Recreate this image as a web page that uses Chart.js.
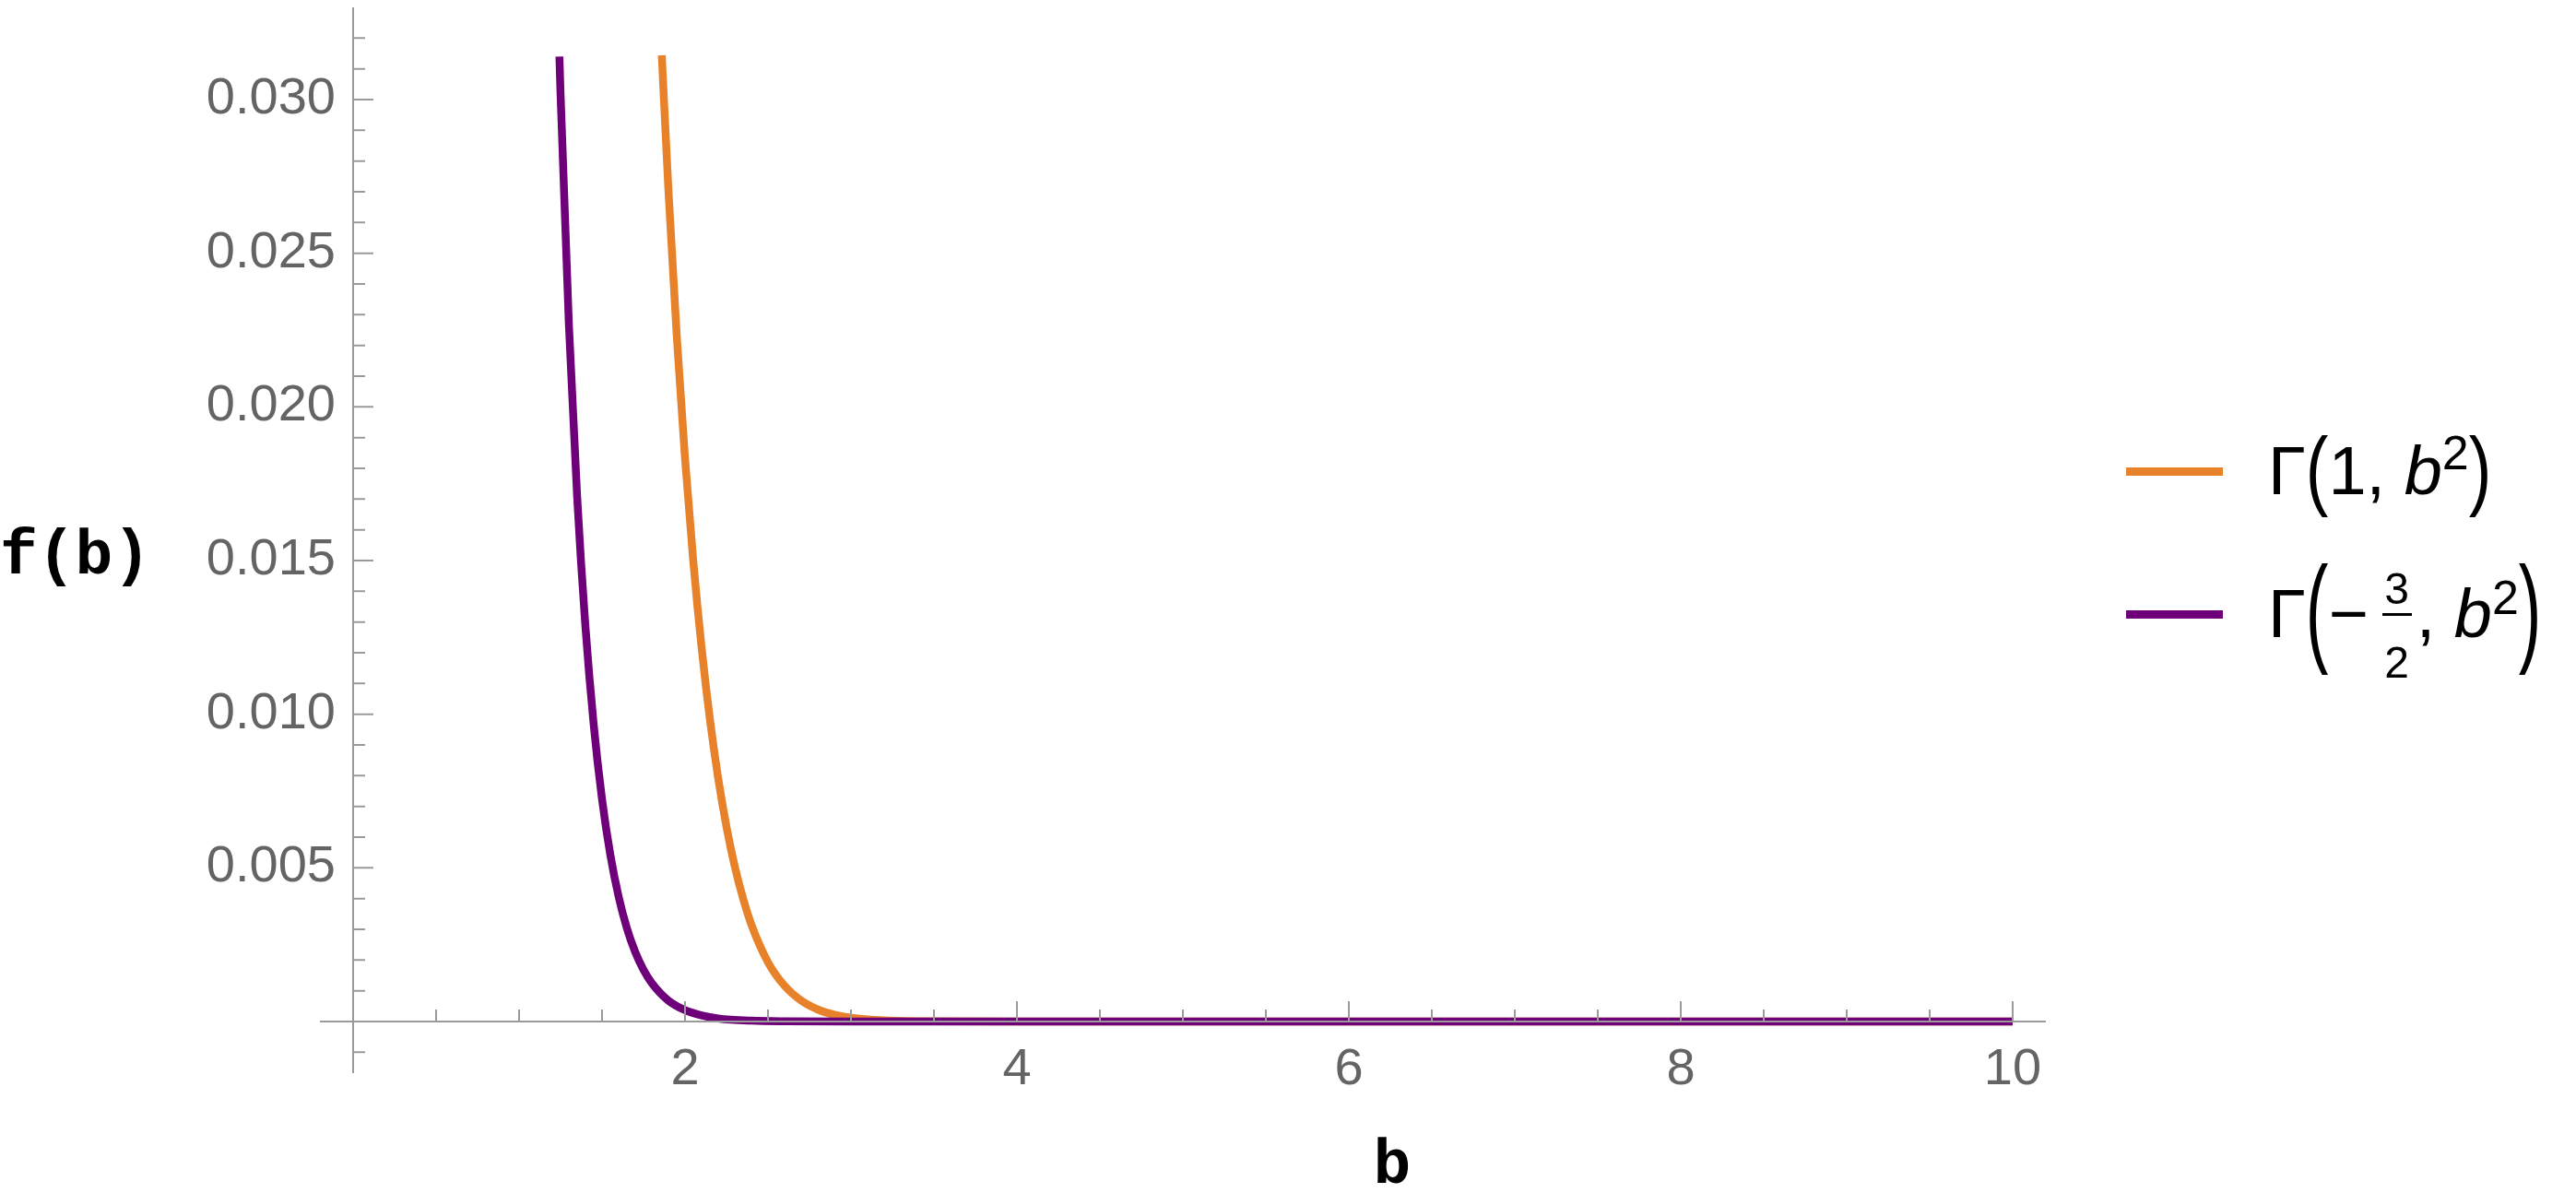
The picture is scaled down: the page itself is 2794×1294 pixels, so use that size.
<!DOCTYPE html>
<html>
<head>
<meta charset="utf-8">
<script src="https://cdn.jsdelivr.net/npm/chart.js@4.4.0/dist/chart.umd.min.js"></script>
<style>
    html, body { margin: 0; padding: 0; background: #fff; }
    #wrap { position: relative; width: 2794px; height: 1294px; overflow: hidden; }
    #grafico { position: absolute; left: 0; top: 0; }

    .titulo-eixo {
        position: absolute;
        font-family: "Liberation Mono", "DejaVu Sans Mono", monospace;
        font-weight: bold;
        font-size: 68px;
        line-height: 68px;
        color: #000;
        white-space: pre;
    }

    .leg-linha { position: absolute; left: 2306px; width: 105px; height: 9px; }
    .leg-texto {
        position: absolute;
        left: 2460px;
        font-family: "Liberation Sans", Arial, sans-serif;
        font-size: 74px;
        line-height: 74px;
        color: #000;
        white-space: nowrap;
    }
    .par { display: inline-block; transform-origin: 50% 44px; }
    .sup { font-size: 52px; line-height: 0; }
    .frac { display: inline-block; position: relative; width: 34px; height: 0; margin: 0 4px 0 14px; }
    .frac span {
        position: absolute; left: 0; width: 34px; text-align: center;
        font-size: 48px; line-height: 48px;
    }
    .frac .barra { position: absolute; left: 1px; width: 32px; height: 3px; top: -26px; background: #000; }
</style>
</head>
<body>
<div id="wrap">
    <canvas id="grafico" width="2794" height="1294"></canvas>

    <div class="titulo-eixo" style="left:0px; top:570px;">f(b)</div>
    <div class="titulo-eixo" style="left:1460px; top:1231px; width:100px; text-align:center;">b</div>

    <div class="leg-linha" id="legLaranja" style="top:507px;"></div>
    <div class="leg-texto" style="top:474px;">Γ<span class="par" style="transform:scaleY(1.27)">(</span>1, <i>b</i><span class="sup" style="vertical-align:27px">2</span><span class="par" style="transform:scaleY(1.27)">)</span></div>

    <div class="leg-linha" id="legRoxo" style="top:662px;"></div>
    <div class="leg-texto" style="top:629px;">Γ<span class="par" style="transform:scaleY(1.76)">(</span>−<span class="frac"><span style="top:-76px">3</span><i class="barra"></i><span style="top:4px">2</span></span>, <i>b</i><span class="sup" style="vertical-align:25px">2</span><span class="par" style="transform:scaleY(1.76)">)</span></div>
</div>

<script>
// ============================================================================
// DADOS
// ============================================================================
// Γ(1, b²)
const bLaranja = [1.86, 1.9, 1.95, 2.0, 2.05, 2.1, 2.15, 2.2, 2.25, 2.3, 2.35, 2.4,
                  2.5, 2.6, 2.7, 2.8, 2.9, 3.0, 3.2, 3.5, 4, 6, 8, 10];
const fLaranja = [0.03144, 0.02705, 0.02232, 0.01832, 0.01496, 0.01216, 0.00983, 0.00791,
                  0.00633, 0.00504, 0.00400, 0.00315, 0.00193, 0.00116, 0.00068, 0.00039,
                  0.00022, 0.00012, 0.000036, 0.000005, 0, 0, 0, 0];

// Γ(-3/2, b²)
const bRoxo = [1.243, 1.25, 1.3, 1.35, 1.4, 1.45, 1.5, 1.55, 1.6, 1.65, 1.7, 1.75,
               1.8, 1.9, 2.0, 2.1, 2.2, 2.4, 2.6, 3.0, 4, 6, 8, 10];
const fRoxo = [0.0314, 0.03017, 0.02270, 0.01707, 0.01284, 0.00964, 0.00723, 0.00542,
               0.00406, 0.00303, 0.00226, 0.00168, 0.00125, 0.00068, 0.00037, 0.00020,
               0.00010, 0.000027, 0.000007, 0, 0, 0, 0, 0];

// marcas dos eixos
const ticksX = [2, 4, 6, 8, 10];
const ticksY = [0.005, 0.010, 0.015, 0.020, 0.025, 0.030];
const rotulosY = ["0.005", "0.010", "0.015", "0.020", "0.025", "0.030"];

const COR_LARANJA = "#e8822a";
const COR_ROXO = "#6e0079";

document.getElementById("legLaranja").style.background = COR_LARANJA;
document.getElementById("legRoxo").style.background = COR_ROXO;


// ============================================================================
// EIXOS NO ESTILO MATHEMATICA (cruzando na origem, marcas para dentro)
// desenhados por cima das curvas, como no original
// ============================================================================
const eixosPlugin = {
    id: "eixos",
    afterDatasetsDraw(chart) {
        const { ctx, chartArea, scales } = chart;
        const sx = scales.x, sy = scales.y;
        const x0 = sx.getPixelForValue(0);
        const y0 = sy.getPixelForValue(0);

        ctx.save();
        ctx.strokeStyle = "#9a9a9a";
        ctx.lineWidth = 2;

        // linhas dos eixos
        ctx.beginPath();
        ctx.moveTo(chartArea.left, y0);
        ctx.lineTo(chartArea.right, y0);
        ctx.moveTo(x0, chartArea.top);
        ctx.lineTo(x0, chartArea.bottom);
        ctx.stroke();

        // marcas menores e maiores em x
        ctx.beginPath();
        for (let i = 1; i <= 20; i++) {
            const v = i * 0.5;
            const px = sx.getPixelForValue(v);
            const len = ticksX.includes(v) ? 22 : 13;
            ctx.moveTo(px, y0);
            ctx.lineTo(px, y0 - len);
        }
        // marcas em y
        for (let i = -1; i <= 32; i++) {
            if (i === 0) continue;
            const v = i / 1000;
            const py = sy.getPixelForValue(v);
            const len = i % 5 === 0 ? 22 : 13;
            ctx.moveTo(x0, py);
            ctx.lineTo(x0 + len, py);
        }
        ctx.stroke();

        // rótulos
        ctx.fillStyle = "#646464";
        ctx.font = '56px "Liberation Sans", Arial, sans-serif';
        ctx.textBaseline = "alphabetic";

        ctx.textAlign = "center";
        ticksX.forEach(v => ctx.fillText(String(v), sx.getPixelForValue(v), y0 + 68));

        ctx.textAlign = "right";
        ticksY.forEach((v, i) => ctx.fillText(rotulosY[i], x0 - 19, sy.getPixelForValue(v) + 15));

        ctx.restore();
    }
};


// ============================================================================
// GRÁFICO
// ============================================================================
const pontos = (xs, ys) => xs.map((x, i) => ({ x, y: ys[i] }));

new Chart(document.getElementById("grafico"), {
    type: "line",
    data: {
        datasets: [
            {
                label: "Γ(1, b²)",
                data: pontos(bLaranja, fLaranja),
                borderColor: COR_LARANJA,
                borderWidth: 8.5,
                pointRadius: 0,
                cubicInterpolationMode: "monotone",
                order: 2
            },
            {
                label: "Γ(-3/2, b²)",
                data: pontos(bRoxo, fRoxo),
                borderColor: COR_ROXO,
                borderWidth: 8.5,
                pointRadius: 0,
                cubicInterpolationMode: "monotone",
                order: 1
            }
        ]
    },
    options: {
        responsive: false,
        devicePixelRatio: 1,
        animation: false,
        events: [],
        layout: { padding: { left: 347, right: 575, top: 8, bottom: 130 } },
        plugins: { legend: { display: false }, tooltip: { enabled: false } },
        scales: {
            x: { type: "linear", min: -0.2, max: 10.2, display: false },
            y: { type: "linear", min: -0.00168, max: 0.033, display: false }
        }
    },
    plugins: [eixosPlugin]
});
</script>
</body>
</html>
